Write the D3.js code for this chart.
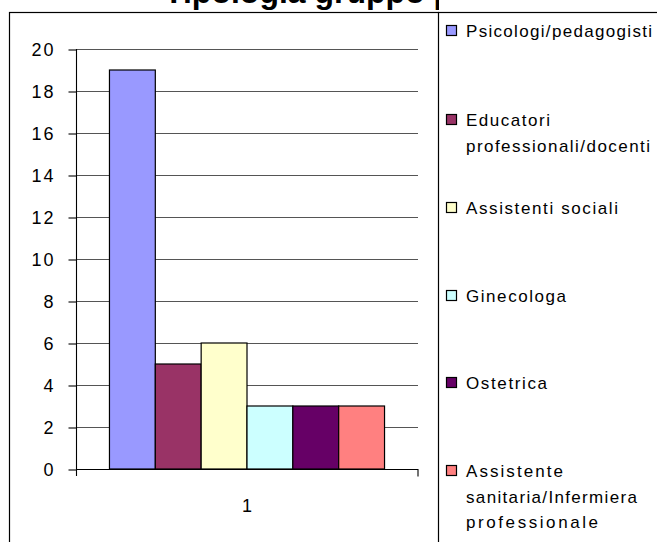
<!DOCTYPE html>
<html>
<head>
<meta charset="utf-8">
<script src="https://cdn.jsdelivr.net/npm/d3@7"></script>
<style>
  html, body { margin: 0; padding: 0; background: #fff; }
  svg { display: block; }
  text { font-family: "Liberation Sans", Arial, sans-serif; fill: #000; }
</style>
</head>
<body>
<svg id="chart" width="657" height="542"></svg>
<script>
// Professional roles and counts
const categories = ["1"];
const seriesNames = [
  "Psicologi/pedagogisti",
  "Educatori professionali/docenti",
  "Assistenti sociali",
  "Ginecologa",
  "Ostetrica",
  "Assistente sanitaria/Infermiera professionale"
];
const seriesValues = [19, 5, 6, 3, 3, 3];
const seriesColors = ["#9999FF", "#993366", "#FFFFCC", "#CCFFFF", "#660066", "#FF8080"];
// legend labels split in lines as they wrap
const legendLines = [
  ["Psicologi/pedagogisti"],
  ["Educatori", "professionali/docenti"],
  ["Assistenti sociali"],
  ["Ginecologa"],
  ["Ostetrica"],
  ["Assistente", "sanitaria/Infermiera", "professionale"]
];
const yTicks = [0, 2, 4, 6, 8, 10, 12, 14, 16, 18, 20];
const titleText = "Tipologia gruppo professionale";

const svg = d3.select("#chart");

// chart frame
svg.append("rect")
  .attr("x", 9.5).attr("y", 12.5)
  .attr("width", 660).attr("height", 560)
  .attr("fill", "#fff").attr("stroke", "#000").attr("stroke-width", 1.2);

// title (top part runs off the canvas)
svg.append("text")
  .attr("x", 164).attr("y", 3)
  .attr("text-anchor", "start")
  .attr("font-weight", "bold")
  .attr("font-size", 32)
  .text(titleText);

const plot = { left: 76, right: 418, top: 49, bottom: 469 };

const y = d3.scaleLinear().domain([0, 20]).range([plot.bottom, plot.top]);
const x0 = d3.scaleBand().domain(categories).range([plot.left, plot.right]).paddingInner(0).paddingOuter(0);
const x1 = d3.scaleBand().domain(seriesNames)
  .range([0, x0.bandwidth()])
  .paddingOuter(0.73).paddingInner(0);

// gridlines
svg.append("g")
  .selectAll("line")
  .data(yTicks.filter(d => d > 0))
  .join("line")
  .attr("x1", plot.left).attr("x2", plot.right)
  .attr("y1", d => y(d) + 0.5).attr("y2", d => y(d) + 0.5)
  .attr("stroke", "#555").attr("stroke-width", 1.1);

// bars
const barG = svg.append("g");
categories.forEach(cat => {
  barG.selectAll("rect.bar")
    .data(seriesNames.map((s, i) => ({ s, v: seriesValues[i], c: seriesColors[i] })))
    .join("rect")
    .attr("class", "bar")
    .attr("x", d => x0(cat) + x1(d.s))
    .attr("y", d => y(d.v))
    .attr("width", x1.bandwidth())
    .attr("height", d => y(0) - y(d.v))
    .attr("fill", d => d.c)
    .attr("stroke", "#000").attr("stroke-width", 1.2);
});

// y axis
const yAxis = d3.axisLeft(y).tickValues(yTicks).tickSize(8).tickPadding(13).tickFormat(d3.format("d"));
const ya = svg.append("g").attr("transform", `translate(${plot.left + 0.5},0.5)`).call(yAxis);
ya.select(".domain").remove();
ya.selectAll(".tick line").attr("stroke", "#000").attr("stroke-width", 1.1);
ya.selectAll(".tick text")
  .attr("font-size", 18)
  .attr("font-family", "Liberation Sans, Arial, sans-serif")
  .attr("fill", "#000")
  .attr("letter-spacing", 2);
svg.append("line")
  .attr("x1", plot.left + 0.5).attr("x2", plot.left + 0.5)
  .attr("y1", plot.top).attr("y2", plot.bottom + 7)
  .attr("stroke", "#000").attr("stroke-width", 1.1);

// x axis
const xAxis = d3.axisBottom(x0).tickSize(0).tickPadding(30).tickFormat(d => d);
const xa = svg.append("g").attr("transform", `translate(0,${plot.bottom + 0.5})`).call(xAxis);
xa.select(".domain").attr("stroke", "#000").attr("stroke-width", 1.1)
  .attr("d", `M${plot.left},0H${plot.right}V7`);
xa.selectAll(".tick text")
  .attr("font-size", 18)
  .attr("font-family", "Liberation Sans, Arial, sans-serif")
  .attr("fill", "#000");

// legend panel: white fill reaches up over the title's tail
svg.append("rect")
  .attr("x", 439).attr("y", -20)
  .attr("width", 300).attr("height", 32)
  .attr("fill", "#fff");
svg.append("rect")
  .attr("x", 438.5).attr("y", 12.5)
  .attr("width", 300).attr("height", 600)
  .attr("fill", "#fff").attr("stroke", "#000").attr("stroke-width", 1.2);

const legendTops = [31, 120, 208, 296, 383, 471];
const lineGap = 25.5;
const lg = svg.append("g");
seriesNames.forEach((s, i) => {
  const cy = legendTops[i];
  lg.append("rect")
    .attr("x", 446.5).attr("y", cy - 5.5)
    .attr("width", 10).attr("height", 10)
    .attr("fill", seriesColors[i]).attr("stroke", "#000").attr("stroke-width", 1.2);
  legendLines[i].forEach((t, j) => {
    lg.append("text")
      .attr("x", 466).attr("y", cy + j * lineGap)
      .attr("dy", "0.36em")
      .attr("font-size", 17)
      .text(t);
  });
});
// stretch legend words to their wide spacing
const legendWidths = {
  "Psicologi/pedagogisti": 186, "Educatori": 84, "professionali/docenti": 184,
  "Assistenti sociali": 152, "Ginecologa": 100, "Ostetrica": 81,
  "Assistente": 97, "sanitaria/Infermiera": 171, "professionale": 132
};
lg.selectAll("text").each(function() {
  const t = d3.select(this);
  const w = legendWidths[t.text()];
  if (w) t.attr("textLength", w).attr("lengthAdjust", "spacing");
});
</script>
</body>
</html>
